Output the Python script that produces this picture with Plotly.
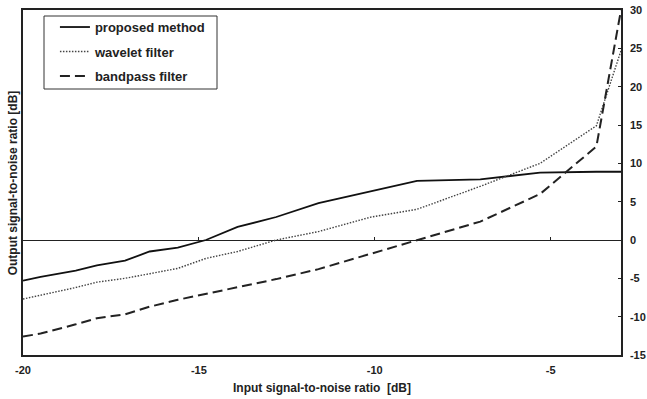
import plotly.graph_objects as go

input_snr = [-20, -19.5, -18.5, -17.9, -17.1, -16.4, -15.6, -14.8, -13.9, -12.8,
             -11.6, -10.1, -8.8, -7.0, -5.3, -3.7, -3.0]
proposed = [-5.3, -4.8, -4.0, -3.3, -2.7, -1.5, -1.0, 0.0, 1.7, 3.0,
            4.8, 6.4, 7.7, 7.9, 8.8, 8.9, 8.9]
wavelet = [-7.7, -7.2, -6.2, -5.5, -5.0, -4.4, -3.7, -2.4, -1.5, 0.0,
           1.1, 3.0, 4.0, 7.0, 10.0, 14.9, 24.7]
bandpass = [-12.6, -12.2, -11.0, -10.2, -9.7, -8.7, -7.8, -7.0, -6.1, -5.1,
            -3.8, -1.8, 0.0, 2.4, 6.0, 12.2, 30.0]

x_ticks = [-20, -15, -10, -5]
y_ticks = [-15, -10, -5, 0, 5, 10, 15, 20, 25, 30]

FONT = "Liberation Sans, Arial, sans-serif"
TXT = "#222222"

fig = go.Figure()
fig.add_trace(go.Scatter(x=input_snr, y=proposed, mode="lines", name="proposed method",
                         legendgroup="a",
                         line=dict(color="#111111", width=1.8)))
fig.add_trace(go.Scatter(x=input_snr, y=wavelet, mode="lines", name="wavelet filter",
                         legendgroup="b",
                         line=dict(color="#444444", width=1.4, dash="1.5px,1.5px")))
fig.add_trace(go.Scatter(x=input_snr, y=bandpass, mode="lines", name="bandpass filter",
                         legendgroup="c",
                         line=dict(color="#222222", width=2, dash="10px,5px")))

fig.update_layout(
    width=647, height=399,
    margin=dict(l=23, r=26, t=10, b=44, autoexpand=False),
    paper_bgcolor="white", plot_bgcolor="white",
    font=dict(family=FONT, color=TXT),
    showlegend=True,
    legend=dict(x=0.0534, y=0.994, xanchor="left", yanchor="top",
                bgcolor="rgba(0,0,0,0)", borderwidth=0,
                font=dict(family=FONT, size=13, weight="bold", color=TXT),
                tracegroupgap=4.6, itemwidth=30),
    shapes=[dict(type="rect", xref="paper", yref="paper",
                 x0=(44 - 23) / 598, x1=(217 - 23) / 598,
                 y0=(355 - 89) / 345, y1=(355 - 16) / 345,
                 line=dict(color="#333333", width=1), fillcolor="white", layer="above")],
    xaxis=dict(range=[-20, -3], tickvals=x_ticks, ticktext=[str(v) for v in x_ticks],
               showgrid=False, zeroline=False, showline=True, mirror=True,
               linecolor="#222222", linewidth=1.5, ticks="", automargin=False,
               tickfont=dict(family=FONT, size=11, weight="bold", color=TXT),
               ticklabelstandoff=4),
    xaxis2=dict(range=[-20, -3], tickvals=x_ticks, overlaying="x", anchor="free",
                position=1/3, side="bottom", ticks="inside", ticklen=3,
                tickcolor="#222222", tickwidth=1, showticklabels=False,
                showline=False, showgrid=False, zeroline=False, automargin=False),
    yaxis=dict(range=[-15, 30], tickvals=y_ticks, ticktext=[str(v) for v in y_ticks],
               side="right", automargin=False,
               showgrid=False, zeroline=True, zerolinecolor="#222222", zerolinewidth=1,
               showline=True, mirror=True, linecolor="#222222", linewidth=1.5,
               ticks="inside", ticklen=3, tickcolor="#222222",
               tickfont=dict(family=FONT, size=11, weight="bold", color=TXT),
               ticklabelstandoff=5),
    annotations=[
        dict(text="Output signal-to-noise ratio [dB]", textangle=-90,
             xref="paper", yref="paper", x=-0.017, y=0.5,
             xanchor="center", yanchor="middle", showarrow=False,
             font=dict(family=FONT, size=12, weight="bold", color=TXT)),
        dict(text="Input signal-to-noise ratio&nbsp;&nbsp;[dB]",
             xref="paper", yref="paper", x=0.5, y=-0.0957,
             xanchor="center", yanchor="middle", showarrow=False,
             font=dict(family=FONT, size=12, weight="bold", color=TXT)),
    ],
)
# invisible trace on xaxis2 so the tick marks on the zero line render
fig.add_trace(go.Scatter(x=[-20], y=[None], xaxis="x2", showlegend=False,
                         hoverinfo="skip", mode="lines"))

fig.write_html("out.html")
